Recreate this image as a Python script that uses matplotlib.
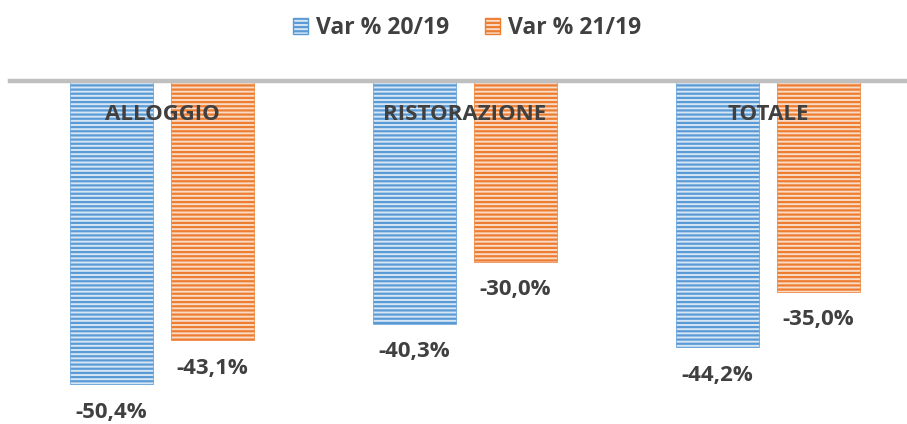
import numpy as np
import matplotlib.pyplot as plt
from matplotlib.patches import Patch

plt.rcParams['font.family'] = ['Open Sans', 'DejaVu Sans']
plt.rcParams['hatch.linewidth'] = 1.6

categories = ['ALLOGGIO', 'RISTORAZIONE', 'TOTALE']
series_names = ['Var % 20/19', 'Var % 21/19']
var_20_19 = [-50.4, -40.3, -44.2]
var_21_19 = [-43.1, -30.0, -35.0]

BLUE, BLUE_L = '#5B9BD5', '#D6E6F5'
ORANGE, ORANGE_L = '#ED7D31', '#FADBC6'
TXT = '#404040'

fig = plt.figure(figsize=(9.07, 4.24), dpi=100)
ax = fig.add_axes([0, 0, 1, (424 - 81) / 424])

x = np.arange(len(categories))
w = 83 / 303
off = 101 / 303 / 2

b1 = ax.bar(x - off, var_20_19, w, color=BLUE_L, edgecolor=BLUE, hatch='----', linewidth=0.5)
b2 = ax.bar(x + off, var_21_19, w, color=ORANGE_L, edgecolor=ORANGE, hatch='----', linewidth=0.5)

for bars, vals in ((b1, var_20_19), (b2, var_21_19)):
    for rect, v in zip(bars, vals):
        ax.text(rect.get_x() + rect.get_width() / 2, v - 4.7, f'{v:.1f}%'.replace('.', ','),
                ha='center', va='center', fontsize=16, fontweight='bold', color=TXT)

for xi, c in zip(x, categories):
    ax.text(xi, -5.6, c, ha='center', va='center', fontsize=16, fontweight='bold', color=TXT)

ax.axhline(0, xmin=10 / 907, color='#BFBFBF', lw=3.2, clip_on=False)
ax.set_xlim(-162 / 303, 2 + 139 / 303)
ax.set_ylim(-57, 0)
ax.axis('off')

handles = [Patch(facecolor=BLUE_L, edgecolor=BLUE, hatch='----', label=series_names[0]),
           Patch(facecolor=ORANGE_L, edgecolor=ORANGE, hatch='----', label=series_names[1])]
leg = fig.legend(handles=handles, loc='center', bbox_to_anchor=(0.515, 1 - 28 / 424), ncol=2,
                 frameon=False, handlelength=0.65, handleheight=0.65, handletextpad=0.35,
                 columnspacing=1.6, prop={'size': 16.5, 'weight': 'bold'})
for t in leg.get_texts():
    t.set_color(TXT)

fig.savefig('out.png', dpi=100)
